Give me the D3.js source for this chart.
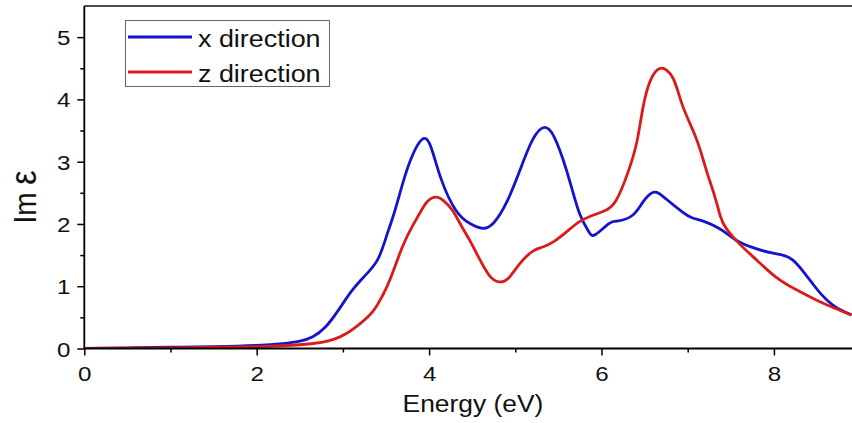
<!DOCTYPE html>
<html>
<head>
<meta charset="utf-8">
<script src="https://cdn.jsdelivr.net/npm/d3@7"></script>
<style>
  html, body { margin: 0; padding: 0; background: #fff; }
  svg { display: block; }
  text { font-family: "Liberation Sans", Arial, sans-serif; fill: #111; }
</style>
</head>
<body>
<svg id="chart" width="852" height="423"></svg>
<script>
// ---------- data ----------
const xDirEnergy = [0, 0.5, 1.0, 1.5, 2.0, 2.3, 2.5, 2.65, 2.8, 2.95, 3.1, 3.25, 3.4, 3.5, 3.6, 3.7, 3.8, 3.92, 4.02, 4.14, 4.31, 4.47, 4.62, 4.75, 4.9, 5.05, 5.2, 5.34, 5.45, 5.55, 5.65, 5.75, 5.85, 5.93, 6.09, 6.2, 6.36, 6.48, 6.61, 6.75, 6.94, 7.05, 7.21, 7.35, 7.45, 7.6, 7.8, 7.99, 8.1, 8.22, 8.35, 8.45, 8.55, 8.68, 8.8, 8.9];
const xDirValues = [0, 0.01, 0.02, 0.03, 0.05, 0.08, 0.12, 0.19, 0.35, 0.62, 0.92, 1.16, 1.42, 1.78, 2.2, 2.68, 3.08, 3.36, 3.24, 2.72, 2.22, 2.01, 1.93, 2.02, 2.35, 2.85, 3.35, 3.55, 3.40, 3.05, 2.6, 2.15, 1.88, 1.83, 2.01, 2.05, 2.14, 2.35, 2.51, 2.40, 2.19, 2.10, 2.03, 1.94, 1.85, 1.71, 1.60, 1.53, 1.50, 1.42, 1.22, 1.04, 0.87, 0.70, 0.60, 0.54];

const zDirEnergy = [0, 1.0, 2.0, 2.5, 2.75, 2.9, 3.05, 3.2, 3.35, 3.46, 3.55, 3.69, 3.8, 3.89, 3.98, 4.08, 4.17, 4.27, 4.37, 4.47, 4.58, 4.7, 4.81, 4.92, 5.05, 5.2, 5.32, 5.45, 5.6, 5.76, 5.94, 6.05, 6.17, 6.31, 6.41, 6.48, 6.56, 6.68, 6.83, 6.94, 7.10, 7.21, 7.31, 7.38, 7.45, 7.6, 7.8, 8.02, 8.25, 8.49, 8.7, 8.9];
const zDirValues = [0, 0.01, 0.03, 0.06, 0.10, 0.15, 0.25, 0.40, 0.60, 0.85, 1.12, 1.63, 1.95, 2.17, 2.36, 2.43, 2.37, 2.22, 1.98, 1.74, 1.45, 1.17, 1.07, 1.13, 1.36, 1.56, 1.63, 1.72, 1.88, 2.05, 2.16, 2.22, 2.38, 2.84, 3.32, 3.86, 4.28, 4.50, 4.34, 3.90, 3.37, 2.89, 2.46, 2.12, 1.92, 1.68, 1.42, 1.15, 0.95, 0.78, 0.65, 0.54];

const seriesNames = ["x direction", "z direction"];
const seriesColors = ["#1414cc", "#dc1a1a"];
const xMajorTicks = [0, 2, 4, 6, 8];
const xMinorTicks = [1, 3, 5, 7];
const yMajorTicks = [0, 1, 2, 3, 4, 5];
const yMinorTicks = [0.5, 1.5, 2.5, 3.5, 4.5];
const xTitle = "Energy (eV)";
const yTitleParts = ["Im ", "ε"];

// ---------- layout ----------
const svg = d3.select("#chart");
const mLeft = 84.3, mRight = 851.5, mTop = 6, mBottom = 348.5;
const sx = 1.15; // horizontal glyph stretch seen in the reference

const x = d3.scaleLinear().domain([0, 8.9]).range([mLeft, mRight]);
const y = d3.scaleLinear().domain([0, 5.5]).range([mBottom, mTop]);

// top frame line
svg.append("line").attr("x1", mLeft).attr("x2", 852).attr("y1", mTop).attr("y2", mTop)
  .attr("stroke", "#111").attr("stroke-width", 1.6);

// series lines
const line = d3.line().x(d => x(d[0])).y(d => y(d[1])).curve(d3.curveNatural);
const series = [
  d3.zip(xDirEnergy, xDirValues),
  d3.zip(zDirEnergy, zDirValues)
];
const plot = svg.append("g");
plot.append("clipPath").attr("id", "clip").append("rect")
  .attr("x", mLeft).attr("y", mTop).attr("width", 852 - mLeft).attr("height", mBottom - mTop);
series.forEach((s, i) => {
  plot.append("path").datum(s)
    .attr("clip-path", "url(#clip)")
    .attr("fill", "none")
    .attr("stroke", seriesColors[i])
    .attr("stroke-width", 2.8)
    .attr("stroke-linejoin", "round")
    .attr("d", line);
});

// x axis
const gx = svg.append("g").attr("transform", `translate(0,${mBottom})`);
gx.call(d3.axisBottom(x).tickValues(xMinorTicks).tickSize(4).tickFormat(""));
gx.selectAll(".tick line").attr("stroke-width", 1.5);
gx.select(".domain").remove();
const gx2 = svg.append("g").attr("transform", `translate(0,${mBottom})`);
gx2.call(d3.axisBottom(x).tickValues(xMajorTicks).tickSize(7).tickPadding(11).tickFormat(d3.format("d")));
gx2.select(".domain").attr("stroke-width", 1.8).attr("d", `M${mLeft},0H852`);
gx2.selectAll(".tick line").attr("stroke-width", 1.5);
gx2.selectAll(".tick text").attr("font-size", 21).attr("fill", "#111")
  .attr("font-family", "Liberation Sans, Arial, sans-serif")
  .attr("transform", `scale(${sx},1)`);

// y axis
const gy = svg.append("g").attr("transform", `translate(${mLeft},0)`);
gy.call(d3.axisLeft(y).tickValues(yMinorTicks).tickSize(4).tickFormat(""));
gy.selectAll(".tick line").attr("stroke-width", 1.5);
gy.select(".domain").remove();
const gy2 = svg.append("g").attr("transform", `translate(${mLeft},0)`);
gy2.call(d3.axisLeft(y).tickValues(yMajorTicks).tickSize(7).tickPadding(7).tickFormat(d3.format("d")));
gy2.select(".domain").attr("stroke-width", 1.8).attr("d", `M0,${mBottom + 1}V${mTop}`);
gy2.selectAll(".tick line").attr("stroke-width", 1.5);
gy2.selectAll(".tick text").attr("font-size", 21).attr("fill", "#111")
  .attr("font-family", "Liberation Sans, Arial, sans-serif")
  .attr("x", -14 / sx).attr("dy", "0.36em")
  .attr("transform", `scale(${sx},1)`);

// axis titles
svg.append("text")
  .attr("transform", `translate(473,411.5) scale(1.1,1)`)
  .attr("text-anchor", "middle")
  .attr("font-size", 24)
  .text(xTitle);

const yt = svg.append("text")
  .attr("transform", `translate(35.5,197) rotate(-90) scale(1,${sx})`)
  .attr("text-anchor", "middle")
  .attr("font-size", 28);
yt.append("tspan").text(yTitleParts[0]);
yt.append("tspan").attr("font-size", 32).text(yTitleParts[1]);

// legend
const lg = svg.append("g");
lg.append("rect").attr("x", 125.5).attr("y", 20.5).attr("width", 204).attr("height", 66)
  .attr("fill", "#fff").attr("stroke", "#666").attr("stroke-width", 1);
seriesNames.forEach((name, i) => {
  const ly = 37 + i * 35;
  lg.append("line").attr("x1", 128).attr("x2", 192).attr("y1", ly).attr("y2", ly)
    .attr("stroke", seriesColors[i]).attr("stroke-width", 3);
  lg.append("text")
    .attr("transform", `translate(198,${ly + 9.5}) scale(1.17,1)`)
    .attr("font-size", 23)
    .text(name);
});
</script>
</body>
</html>
